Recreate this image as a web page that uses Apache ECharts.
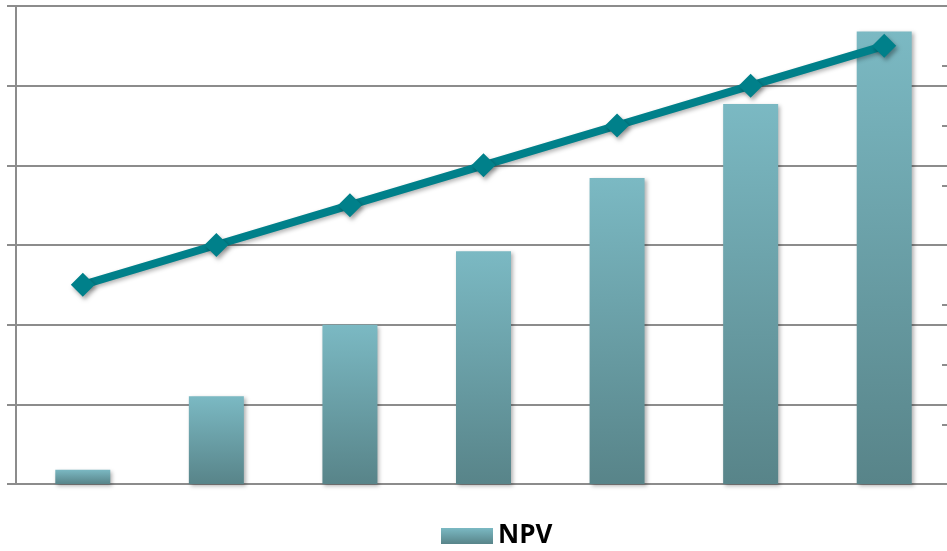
<!DOCTYPE html>
<html>
<head>
<meta charset="utf-8">
<script src="https://cdn.jsdelivr.net/npm/echarts@6/dist/echarts.min.js"></script>
<style>
  html, body { margin: 0; padding: 0; background: #fff; }
  #chart { width: 947px; height: 551px; }
</style>
</head>
<body>
<div id="chart"></div>
<script>
// 年份（图上无标签）
const categories = ['1', '2', '3', '4', '5', '6', '7']
// NPV 柱
const npvValues = [0.18, 1.1, 2.0, 2.92, 3.84, 4.77, 5.68]
// 折线（未在图例中）
const lineValues = [2.5, 3.0, 3.5, 4.0, 4.5, 5.0, 5.5]

const myChart = echarts.init(document.getElementById('chart'))

// 图表右侧被裁掉一点，用数值型 x 轴来还原类目位置
const toPoints = (values) => values.map((v, i) => [categories.indexOf(categories[i]), v])

const option = {
  animation: false,
  grid: {
    left: 16,
    right: 0,
    top: 6,
    bottom: 67,
  },
  legend: {
    data: [{ name: 'NPV', icon: 'rect' }],
    bottom: 2,
    left: 441,
    padding: 0,
    itemWidth: 52,
    itemHeight: 16,
    itemGap: 4,
    textStyle: {
      color: '#000',
      fontSize: 26,
      fontWeight: 'bold',
      fontFamily: 'Open Sans',
    },
  },
  xAxis: {
    type: 'value',
    min: -0.5,
    max: 6.47,
    axisLine: { show: true, onZero: false, lineStyle: { color: '#8c8c8c', width: 2 } },
    axisTick: { show: false },
    axisLabel: { show: false },
    splitLine: { show: false },
  },
  yAxis: [
    {
      type: 'value',
      min: 0,
      max: 6,
      interval: 1,
      axisLine: { show: true, onZero: false, lineStyle: { color: '#8c8c8c', width: 2 } },
      axisTick: { show: true, length: 9, lineStyle: { color: '#8c8c8c', width: 2 } },
      axisLabel: { show: false },
      splitLine: { lineStyle: { color: '#8c8c8c', width: 2 } },
    },
    {
      type: 'value',
      min: 0,
      max: 8,
      interval: 1,
      position: 'right',
      axisLine: { show: false, onZero: false },
      axisTick: { show: true, inside: true, length: 5, lineStyle: { color: '#8c8c8c', width: 2 } },
      axisLabel: { show: false },
      splitLine: { show: false },
    },
  ],
  series: [
    {
      name: 'NPV',
      type: 'bar',
      barWidth: 55,
      data: toPoints(npvValues),
      itemStyle: {
        color: new echarts.graphic.LinearGradient(0, 0, 0, 1, [
          { offset: 0, color: '#7bb9c3' },
          { offset: 1, color: '#588489' },
        ]),
        shadowColor: 'rgba(0,0,0,0.3)',
        shadowBlur: 4,
        shadowOffsetX: 2,
        shadowOffsetY: 2,
      },
      z: 2,
    },
    {
      name: 'line',
      type: 'line',
      data: toPoints(lineValues),
      symbol: 'diamond',
      symbolSize: 24,
      lineStyle: {
        color: '#00808a',
        width: 8,
        shadowColor: 'rgba(0,0,0,0.3)',
        shadowBlur: 4,
        shadowOffsetX: 2,
        shadowOffsetY: 2,
      },
      itemStyle: {
        color: '#00808a',
        shadowColor: 'rgba(0,0,0,0.35)',
        shadowBlur: 4,
        shadowOffsetX: 2,
        shadowOffsetY: 3,
      },
      z: 3,
    },
  ],
}

myChart.setOption(option)
</script>
</body>
</html>
